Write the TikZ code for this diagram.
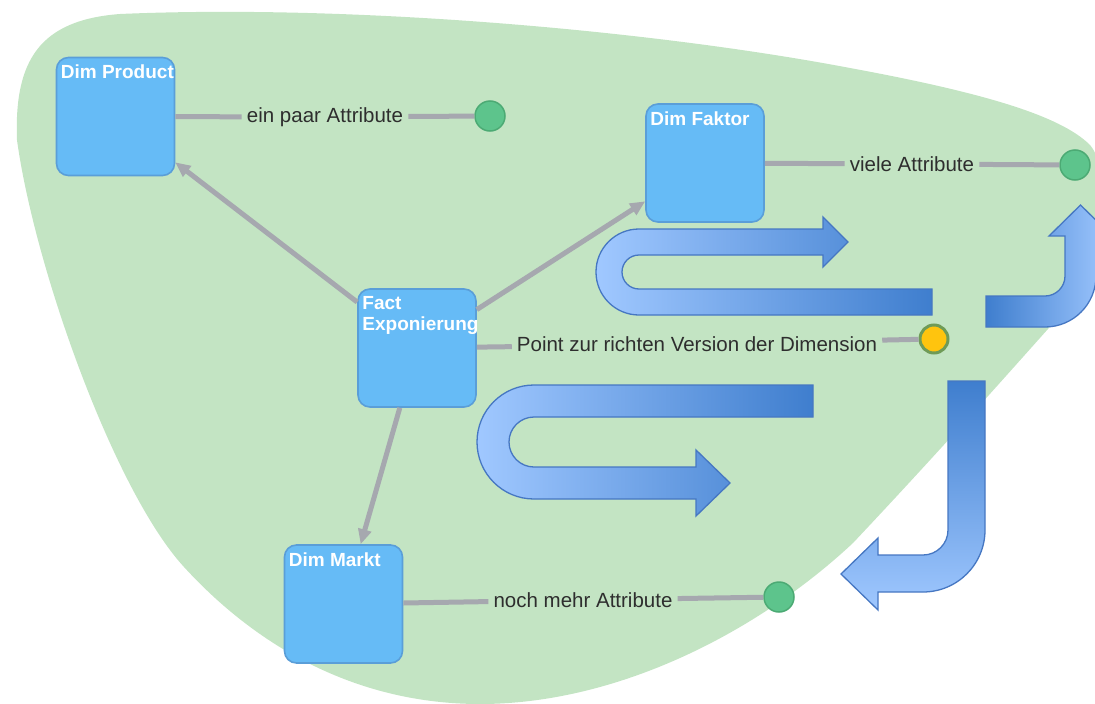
\documentclass[tikz,border=0pt]{standalone}
\usepackage{fontspec}
\setmainfont{Liberation Sans}
\usetikzlibrary{arrows.meta}
\definecolor{blob}{HTML}{C3E4C3}
\definecolor{boxfill}{HTML}{66BBF6}
\definecolor{boxedge}{HTML}{5A9ED8}
\definecolor{wire}{HTML}{A6A8AF}
\definecolor{dotgreen}{HTML}{5DC48C}
\definecolor{dotedge}{HTML}{4CAA74}
\definecolor{dotyellow}{HTML}{FFC40E}
\definecolor{dotring}{HTML}{6F9B57}
\definecolor{flowlight}{HTML}{A0C8FF}
\definecolor{flowdark}{HTML}{3F7ECE}
\definecolor{flowedge}{HTML}{4677C2}
\definecolor{labeltext}{HTML}{2E2E2E}
\begin{document}
\begin{tikzpicture}[x=1pt,y=-1pt,
  entity/.style={draw=boxedge, fill=boxfill, line width=1.6pt, rounded corners=12pt,
    minimum width=118pt, minimum height=118pt, inner sep=0pt},
  title/.style={anchor=north west, inner sep=0pt, xshift=5pt, yshift=-8pt, text=white,
    align=left, font=\fontsize{19}{21}\selectfont\bfseries},
  link/.style={draw=wire, line width=5pt, -{Triangle[length=15pt,width=13pt]}},
  attr/.style={draw=wire, line width=5pt},
  attrlabel/.style={inner sep=5pt, text=labeltext, font=\fontsize{20.5}{24}\selectfont},
  endpoint/.style={circle, fill=dotgreen, draw=dotedge, line width=1.5pt,
    minimum size=30pt, inner sep=0pt},
  version/.style={circle, fill=dotyellow, draw=dotring, line width=3pt,
    minimum size=28pt, inner sep=0pt},
  flow/.style={draw=flowedge, line width=1.3pt}
]
\useasboundingbox (0,0) rectangle (1095,704);
\clip (0,0) rectangle (1095,704);

% background region
\fill[blob] (17,140) .. controls (14,60) and (40,20) .. (120,14)
  .. controls (350,4) and (650,30) .. (850,68)
  .. controls (980,92) and (1060,115) .. (1090,145)
  .. controls (1115,175) and (1105,270) .. (1065,310)
  .. controls (1020,360) and (950,440) .. (853,543)
  .. controls (760,630) and (620,704) .. (480,704)
  .. controls (360,704) and (260,650) .. (184,567)
  .. controls (115,492) and (35,270) .. (17,140) -- cycle;

% process flow arrows
\shadedraw[flow, left color=flowlight, right color=flowdark]
  (932,315) -- (639,315) arc[start angle=90, end angle=270, radius=43]
  -- (823,229) -- (823,217) -- (848,242) -- (823,267) -- (823,255) -- (639,255)
  arc[start angle=270, end angle=90, radius=17] -- (932,289) -- cycle;

\shadedraw[flow, left color=flowlight, right color=flowdark]
  (813,385) -- (534,385) arc[start angle=270, end angle=90, radius=57]
  -- (696,499) -- (696,516) -- (730,483) -- (696,450) -- (696,467) -- (534,467)
  arc[start angle=90, end angle=270, radius=25] -- (813,417) -- cycle;

\shadedraw[flow, top color=flowdark, bottom color=flowlight]
  (948,381) -- (985,381) -- (985,530) arc[start angle=0, end angle=90, radius=62]
  -- (878,592) -- (878,610) -- (841,574) -- (878,538) -- (878,555) -- (923,555)
  arc[start angle=90, end angle=0, radius=25] -- cycle;

\shadedraw[flow, left color=flowdark, right color=flowlight]
  (986,296) -- (1045,296) arc[start angle=90, end angle=0, radius=20]
  -- (1065,236) -- (1049,236) -- (1080.5,205) -- (1112,236) -- (1096,236)
  -- (1096,276) arc[start angle=0, end angle=90, radius=51] -- (986,327) -- cycle;

% entities
\node[entity, label={[title]north west:Dim Product}] (prod) at (115.5,116.5) {};
\node[entity, label={[title]north west:Dim Faktor}] (faktor) at (705,163) {};
\node[entity, label={[title]north west:Fact\\Exponierung}] (fact) at (417,348) {};
\node[entity, label={[title]north west:Dim Markt}] (markt) at (343.5,604) {};

% attribute end points
\node[endpoint] (d1) at (490,116) {};
\node[endpoint] (d2) at (1075,165) {};
\node[version] (d3) at (934,339) {};
\node[endpoint] (d4) at (779,597) {};

% attribute labels
\node[attrlabel] (l1) at (325,117) {ein paar Attribute};
\node[attrlabel] (l2) at (912,164) {viele Attribute};
\node[attrlabel] (l3) at (697,344) {Point zur richten Version der Dimension};
\node[attrlabel] (l4) at (583,600) {noch mehr Attribute};

% fact to dimension links
\draw[link] (fact) -- (prod);
\draw[link] (fact) -- (faktor);
\draw[link] (fact) -- (markt);

% attribute lines
\draw[attr] (prod) -- (l1);
\draw[attr] (l1) -- (d1);
\draw[attr] (faktor) -- (l2);
\draw[attr] (l2) -- (d2);
\draw[attr] (fact) -- (l3);
\draw[attr] (l3) -- (d3);
\draw[attr] (markt) -- (l4);
\draw[attr] (l4) -- (d4);
\end{tikzpicture}
\end{document}
